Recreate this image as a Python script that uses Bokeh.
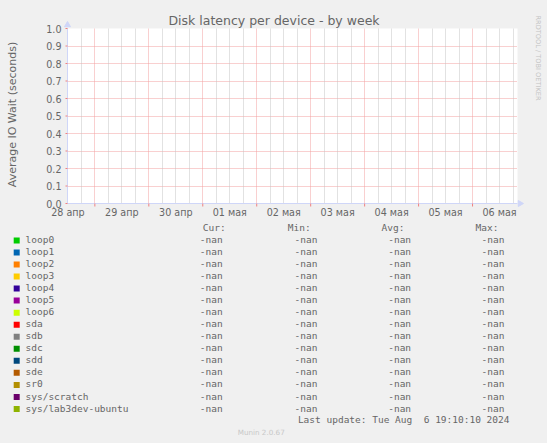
import math
from bokeh.plotting import figure
from bokeh.models import (Range1d, FixedTicker, NumeralTickFormatter, Grid, ColumnDataSource)
from bokeh.core.properties import value
from bokeh.embed import file_html
from bokeh.resources import INLINE

nan = float("nan")

# ---------------- data ----------------
title_text = "Disk latency per device - by week"
y_label_text = "Average IO Wait (seconds)"
# time axis in hours since 2024-04-28 00:00
x_start_h = 11.83
x_end_h = 212.0
day_labels = ["28 апр", "29 апр", "30 апр", "01 мая", "02 мая", "03 мая", "04 мая", "05 мая", "06 мая"]
y_ticks = [0.0, 0.1, 0.2, 0.3, 0.4, 0.5, 0.6, 0.7, 0.8, 0.9, 1.0]

devices = ["loop0", "loop1", "loop2", "loop3", "loop4", "loop5", "loop6", "sda", "sdb",
           "sdc", "sdd", "sde", "sr0", "sys/scratch", "sys/lab3dev-ubuntu"]
colors = ["#00CC00", "#0066B3", "#FF8000", "#FFCC00", "#330099", "#990099", "#CCFF00",
          "#FF0000", "#808080", "#008F00", "#00487D", "#B35A00", "#B38F00", "#6B006B", "#8FB300"]
cur_vals = [nan, nan, nan, nan, nan, nan, nan, nan, nan, nan, nan, nan, nan, nan, nan]
min_vals = [nan, nan, nan, nan, nan, nan, nan, nan, nan, nan, nan, nan, nan, nan, nan]
avg_vals = [nan, nan, nan, nan, nan, nan, nan, nan, nan, nan, nan, nan, nan, nan, nan]
max_vals = [nan, nan, nan, nan, nan, nan, nan, nan, nan, nan, nan, nan, nan, nan, nan]
headers = ["Cur:", "Min:", "Avg:", "Max:"]
last_update = "Last update: Tue Aug\u00a0 6 19:10:10 2024"
version_text = "Munin 2.0.67"
watermark = "RRDTOOL / TOBI OETIKER"

# ---------------- styles ----------------
BG = "#F0F0F0"
FONT_C = "#666666"
AXIS_C = "#CFD6F8"
SANS = "DejaVu Sans"
MONO = "DejaVu Sans Mono"
RED_G = "#F2A0A0"
GRAY_G = "#C4C4C4"

W, H = 547, 443
FL, FR, FT, FB = 67, 517, 28, 203   # plot frame in page pixels

# ---------------- main chart ----------------
p = figure(width=W, height=H, output_backend="svg", toolbar_location=None,
           x_range=Range1d(x_start_h, x_end_h), y_range=Range1d(y_ticks[0], y_ticks[-1]),
           min_border_left=FL, min_border_right=W - FR, min_border_top=FT, min_border_bottom=H - FB,
           background_fill_color="white", border_fill_color=BG, outline_line_color=None)

noon_ticks = [12 + 24 * i for i in range(len(day_labels))]
midnight_ticks = [24 * i for i in range(1, len(day_labels))]
six_h_ticks = [h for h in range(6, int(x_end_h) + 1, 6) if h % 24 != 0]

p.xaxis.ticker = FixedTicker(ticks=noon_ticks)
p.xaxis.major_label_overrides = {t: lab for t, lab in zip(noon_ticks, day_labels)}
p.yaxis.ticker = FixedTicker(ticks=y_ticks)
p.yaxis.formatter = NumeralTickFormatter(format="0.0")
for ax in (p.xaxis[0], p.yaxis[0]):
    ax.axis_line_color = AXIS_C
    ax.major_tick_line_color = None
    ax.major_tick_out = 0
    ax.major_tick_in = 0
    ax.minor_tick_line_color = None
    ax.major_label_text_font = SANS
    ax.major_label_text_font_size = "9.6px"
    ax.major_label_text_color = FONT_C
p.xaxis.major_label_standoff = 3
p.yaxis.major_label_standoff = 6

p.xgrid.visible = False
p.ygrid.grid_line_color = RED_G
p.ygrid.grid_line_dash = "1 1"
p.add_layout(Grid(dimension=0, ticker=FixedTicker(ticks=six_h_ticks),
                  grid_line_color=GRAY_G, grid_line_dash="1 1"))
p.add_layout(Grid(dimension=0, ticker=FixedTicker(ticks=midnight_ticks),
                  grid_line_color=RED_G, grid_line_dash="1 1"))

# series: all values are NaN, so nothing is visible
for dev, col, v in zip(devices, colors, cur_vals):
    p.line(x=[x_start_h, x_end_h], y=[v, v], line_color=col, line_width=1)

# ---------------- overlay for texts and legend (page pixel coordinates) ----------------
q = figure(width=W, height=H, output_backend="svg", toolbar_location=None,
           x_range=Range1d(0, W), y_range=Range1d(H, 0),
           x_axis_location=None, y_axis_location=None, min_border=0,
           background_fill_color=None, border_fill_color=None, outline_line_color=None)
q.grid.visible = False
q.styles = {"position": "absolute", "top": "0px", "left": "0px"}


def px_x(h):
    return FL + (h - x_start_h) / (x_end_h - x_start_h) * (FR - FL)


def px_y(v):
    return FB - (v - y_ticks[0]) / (y_ticks[-1] - y_ticks[0]) * (FB - FT)


# small red tick marks on the axes (major grid positions)
mid_px = [px_x(t) for t in midnight_ticks]
q.segment(x0=mid_px, y0=[FB] * len(mid_px), x1=mid_px, y1=[FB + 3] * len(mid_px),
          line_color="#F08080", line_width=1)
yt_px = [px_y(v) for v in y_ticks]
q.segment(x0=[FL - 2] * len(yt_px), y0=yt_px, x1=[FL] * len(yt_px), y1=yt_px,
          line_color="#F08080", line_width=1)

# axis arrows
q.scatter(x=[519.5], y=[FB], marker="triangle", size=6, angle=-math.pi / 2,
          fill_color=AXIS_C, line_color=AXIS_C)
q.scatter(x=[FL], y=[FT - 3.5], marker="triangle", size=6,
          fill_color=AXIS_C, line_color=AXIS_C)

q.text(x=[273.5], y=[24 - 4.5], text=[title_text], text_font=value(SANS), text_font_size=value("12.5px"),
       text_color=FONT_C, text_align="center", text_baseline="alphabetic")
q.text(x=[11.5], y=[114], text=[y_label_text], angle=math.pi / 2, text_font=value(SANS),
       text_font_size=value("11px"), text_color=FONT_C, text_align="center", text_baseline="middle")
q.text(x=[537.5], y=[57.5], text=[watermark], angle=-math.pi / 2, text_font=value(SANS),
       text_font_size=value("6.6px"), text_color="#C4C4C4", text_align="center", text_baseline="middle")

row0, step = 242.5, 12.04
rows = [row0 + step * i for i in range(len(devices))]
TSH = 3.5  # baseline correction for mono text


def fmt(v):
    return "-nan" if v != v else "%.2f" % v


legend_src = ColumnDataSource(dict(
    y=[r - TSH for r in rows], sq_y=[r - 2.6 for r in rows], name=devices, color=colors,
    cur=[fmt(v) for v in cur_vals], mn=[fmt(v) for v in min_vals],
    avg=[fmt(v) for v in avg_vals], mx=[fmt(v) for v in max_vals]))

q.rect(x=16.2, y="sq_y", width=6, height=6, fill_color="color", line_color=None, source=legend_src)
mono = dict(text_font=value(MONO), text_font_size=value("9.5px"), text_color=FONT_C,
            text_baseline="alphabetic")
q.text(x=25, y="y", text="name", text_align="left", source=legend_src, **mono)
for cx, col in zip([199.3, 294, 387.7, 481], ["cur", "mn", "avg", "mx"]):
    q.text(x=cx, y="y", text=col, text_align="left", source=legend_src, **mono)
q.text(x=[202.3, 287.3, 381, 475], y=[230.7 - TSH] * 4, text=headers, text_align="left", **mono)
q.text(x=[509], y=[422.7 - TSH], text=[last_update], text_align="right", **mono)
q.text(x=[260.7], y=[434.3 - 2.7], text=[version_text], text_font=value(SANS),
       text_font_size=value("7.2px"), text_color="#C8C8C8", text_align="center",
       text_baseline="alphabetic")

html = file_html([p, q], INLINE)
html = html.replace("<head>", "<head><style>html,body{background:#F0F0F0;}</style>", 1)
open("out.html", "w").write(html)
